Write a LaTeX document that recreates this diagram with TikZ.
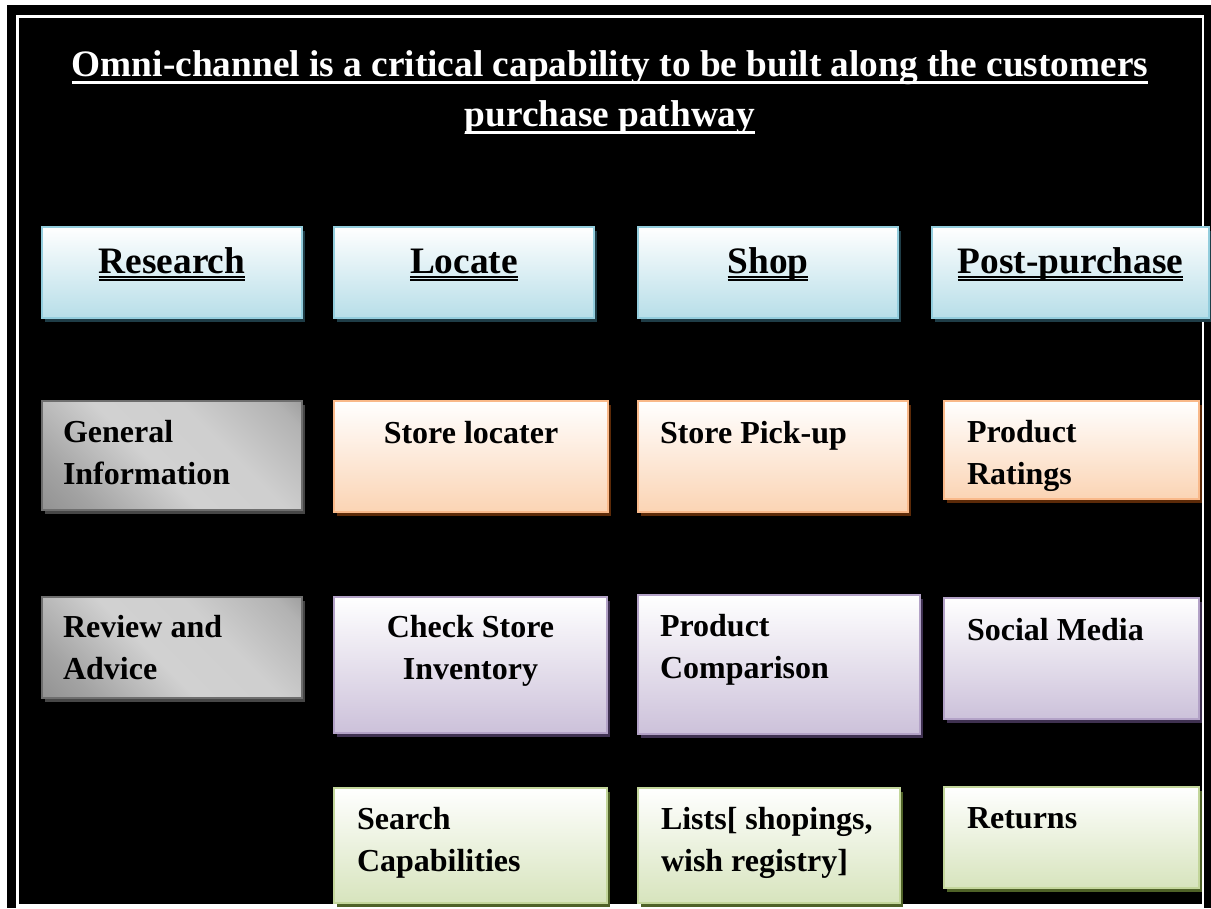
\documentclass[tikz,border=0pt]{standalone}
\usepackage{fontspec}
\setmainfont{Liberation Serif}
\usetikzlibrary{shadows}

% palette
\definecolor{hdrfill}{HTML}{B7DEE8}
\definecolor{hdrline}{HTML}{93CDDD}
\definecolor{hdrshadow}{HTML}{1F3D47}
\definecolor{orgfill}{HTML}{FBD4B4}
\definecolor{orgline}{HTML}{F9B98A}
\definecolor{orgshadow}{HTML}{5C2A08}
\definecolor{purfill}{HTML}{CCC1DA}
\definecolor{purline}{HTML}{B3A2C7}
\definecolor{purshadow}{HTML}{3F3151}
\definecolor{grnfill}{HTML}{D7E4BD}
\definecolor{grnline}{HTML}{C3D69B}
\definecolor{grnshadow}{HTML}{4F6228}
\definecolor{gryline}{HTML}{6E6E6E}
\definecolor{gryshadow}{HTML}{474747}

% brushed-metal look for the research cells
\pgfdeclarehorizontalshading{metal}{100bp}{color(0bp)=(black!52); color(25bp)=(black!36); color(45bp)=(black!18); color(62bp)=(black!19); color(80bp)=(black!30); color(100bp)=(black!58)}

% one drawing unit = one pixel of the 1211 x 908 canvas
\newlength\pxu \setlength\pxu{0.75pt}
\newcommand\bodyfont{\fontsize{24pt}{31.5pt}\selectfont\bfseries}
\newcommand\hdrfont{\fontsize{28pt}{34pt}\selectfont\bfseries}
\newcommand\lft[1]{\raggedright\leftskip=#1\pxu\relax}
% cell contents: width, height, top-to-first-baseline, layout, text
\newcommand\cellin[5]{\parbox[c][#2\pxu][t]{#1\pxu}{#4\rule{0pt}{#3\pxu}#5}}
% single and double underlines
\newsavebox\ulbox
\newcommand\sul[1]{\leavevmode\sbox\ulbox{#1}\rlap{\rule[-6.3pt]{\wd\ulbox}{2.4pt}}\usebox\ulbox}
\newcommand\dul[1]{\leavevmode\sbox\ulbox{#1}\rlap{\rule[-3.9pt]{\wd\ulbox}{1.5pt}}\rlap{\rule[-6.15pt]{\wd\ulbox}{1.5pt}}\usebox\ulbox}

\tikzset{
  cellbox/.style={rectangle, inner sep=0pt, outer sep=0pt, anchor=north west, line width=1.5pt},
  hdrbox/.style={cellbox, draw=hdrline, top color=white, bottom color=hdrfill,
    drop shadow={shadow xshift=2pt, shadow yshift=-3pt, fill=hdrshadow, opacity=1}},
  orgbox/.style={cellbox, draw=orgline, top color=white, bottom color=orgfill,
    drop shadow={shadow xshift=2pt, shadow yshift=-3pt, fill=orgshadow, opacity=1}},
  purbox/.style={cellbox, draw=purline, top color=white, bottom color=purfill,
    drop shadow={shadow xshift=2pt, shadow yshift=-3pt, fill=purshadow, opacity=1}},
  grnbox/.style={cellbox, draw=grnline, top color=white, bottom color=grnfill,
    drop shadow={shadow xshift=2pt, shadow yshift=-3pt, fill=grnshadow, opacity=1}},
  grybox/.style={cellbox, draw=gryline, line width=1pt, shading=metal, shading angle=45,
    drop shadow={shadow xshift=2pt, shadow yshift=-3pt, fill=gryshadow, opacity=1}},
}

\begin{document}
\begin{tikzpicture}[x=0.75pt, y=-0.75pt]
  \useasboundingbox (0,0) rectangle (1211,908);
  % page, black panel and its white inner frame
  \fill[white] (0,0) rectangle (1211,908);
  \fill[black] (7,5) rectangle (1211,908);
  \fill[white] (15.5,15) rectangle (1204,908);
  \fill[black] (19,17.5) rectangle (1201.5,904);

  % heading
  \node[anchor=base, inner sep=0pt, text=white] (title) at (610,76)
    {\parbox[t]{1180\pxu}{\centering\fontsize{28pt}{37.5pt}\selectfont\bfseries
      \sul{Omni-channel is a critical capability to be built along the customers}\\
      \sul{purchase pathway}}};

  % stage headers
  \node[hdrbox] (research) at (42,227)  {\cellin{260}{91}{46}{\centering\hdrfont}{\dul{Research}}};
  \node[hdrbox] (locate)   at (334,227) {\cellin{260}{91}{46}{\centering\hdrfont}{\dul{Locate}}};
  \node[hdrbox] (shop)     at (638,227) {\cellin{260}{91}{46}{\centering\hdrfont}{\dul{Shop}}};
  \node[hdrbox] (post)     at (932,227) {\cellin{277}{91}{46}{\centering\hdrfont}{\dul{Post-purchase}}};

  % research column
  \node[grybox] (general) at (42,401) {\cellin{260}{109}{41}{\lft{21}\bodyfont}{General\\Information}};
  \node[grybox] (review)  at (42,597) {\cellin{260}{101}{40}{\lft{21}\bodyfont}{Review and\\Advice}};

  % locate column
  \node[orgbox] (locater)   at (334,401) {\cellin{274}{111}{42}{\centering\bodyfont}{Store locater}};
  \node[purbox] (inventory) at (334,597) {\cellin{273}{136}{40}{\centering\bodyfont}{Check Store\\Inventory}};
  \node[grnbox] (search)    at (334,788) {\cellin{273}{115}{41}{\lft{23}\bodyfont}{Search\\Capabilities}};

  % shop column
  \node[orgbox] (pickup)     at (638,401) {\cellin{270}{111}{42}{\lft{22}\bodyfont}{Store Pick-up}};
  \node[purbox] (comparison) at (638,595) {\cellin{282}{139}{41}{\lft{22}\bodyfont}{Product\\Comparison}};
  \node[grnbox] (lists)      at (638,788) {\cellin{262}{115}{41}{\lft{23}\bodyfont}{Lists[ shopings,\\wish registry]}};

  % post-purchase column
  \node[orgbox] (ratings) at (944,401) {\cellin{255}{98}{41}{\lft{23}\bodyfont}{Product\\Ratings}};
  \node[purbox] (social)  at (944,598) {\cellin{255}{121}{42}{\lft{23}\bodyfont}{Social Media}};
  \node[grnbox] (returns) at (944,787) {\cellin{255}{101}{41}{\lft{23}\bodyfont}{Returns}};
\end{tikzpicture}
\end{document}
